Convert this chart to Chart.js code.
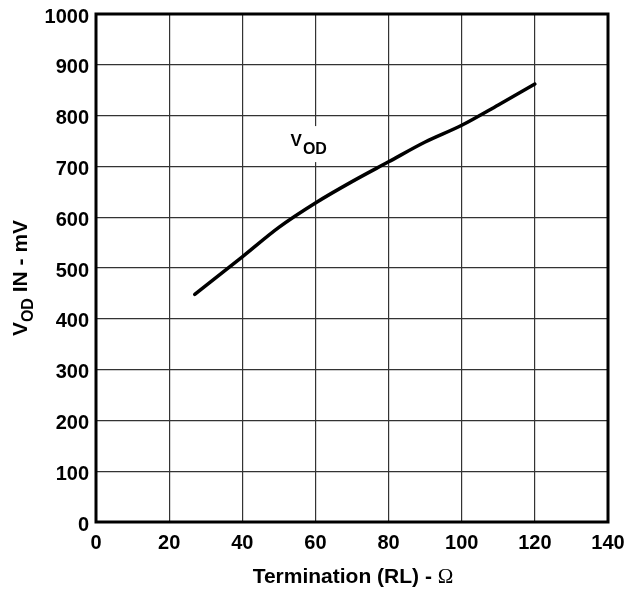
<!DOCTYPE html>
<html>
<head>
<meta charset="utf-8">
<script src="https://cdn.jsdelivr.net/npm/chart.js@4.4.1/dist/chart.umd.min.js"></script>
<style>
  html, body { margin: 0; padding: 0; background: #fff; }
  #wrap { width: 624px; height: 592px; }
</style>
</head>
<body>
<div id="wrap"><canvas id="c" width="624" height="592"></canvas></div>
<script>
// ---- data ----
const termination = [27, 40, 50, 60, 70, 80, 90, 100, 110, 120];
const vodMilliVolts = [448, 522, 580, 628, 670, 709, 748, 781, 821, 862];
const xTicks = [0, 20, 40, 60, 80, 100, 120, 140];
const yTicks = [0, 100, 200, 300, 400, 500, 600, 700, 800, 900, 1000];
const seriesLabel = ['V', 'OD'];
const yTitle = ['V', 'OD', ' IN - mV'];
const xTitle = ['Termination (RL) - ', '\u03A9'];

const labelAnchor = { x: 53.2, y: 740 };

const points = termination.map((x, i) => ({ x: x, y: vodMilliVolts[i] }));

const framePlugin = {
  id: 'frame',
  beforeDatasetsDraw(chart) {
    const { ctx, scales } = chart;
    const px = scales.x.getPixelForValue(labelAnchor.x);
    const py = scales.y.getPixelForValue(labelAnchor.y);
    ctx.save();
    ctx.fillStyle = '#fff';
    ctx.fillRect(px - 4, py - 20, 46, 36);
    ctx.fillStyle = '#000';
    ctx.textBaseline = 'alphabetic';
    ctx.textAlign = 'left';
    ctx.font = 'bold 17px "Liberation Sans", Arial, sans-serif';
    ctx.fillText(seriesLabel[0], px, py);
    const w = ctx.measureText(seriesLabel[0]).width;
    ctx.font = 'bold 16px "Liberation Sans", Arial, sans-serif';
    ctx.fillText(seriesLabel[1], px + w + 1, py + 8);
    ctx.restore();
  },
  afterDraw(chart) {
    const { ctx, chartArea: a } = chart;
    ctx.save();
    ctx.strokeStyle = '#000';
    ctx.lineWidth = 3;
    ctx.strokeRect(a.left, a.top, a.right - a.left, a.bottom - a.top);

    // y title (rotated, with subscript)
    ctx.translate(27, 278);
    ctx.rotate(-Math.PI / 2);
    ctx.textBaseline = 'alphabetic';
    ctx.textAlign = 'left';
    const fBig = 'bold 21px "Liberation Sans", Arial, sans-serif';
    const fSub = 'bold 16px "Liberation Sans", Arial, sans-serif';
    ctx.font = fBig; const w0 = ctx.measureText(yTitle[0]).width;
    ctx.font = fSub; const w1 = ctx.measureText(yTitle[1]).width;
    ctx.font = fBig; const w2 = ctx.measureText(yTitle[2]).width;
    let sx = -(w0 + w1 + w2) / 2;
    ctx.fillStyle = '#000';
    ctx.font = fBig; ctx.fillText(yTitle[0], sx, 0); sx += w0;
    ctx.font = fSub; ctx.fillText(yTitle[1], sx, 6); sx += w1;
    ctx.font = fBig; ctx.fillText(yTitle[2], sx, 0);
    ctx.restore();

    // x title
    ctx.save();
    ctx.fillStyle = '#000';
    ctx.textBaseline = 'alphabetic';
    ctx.textAlign = 'left';
    const fX = 'bold 21px "Liberation Sans", Arial, sans-serif';
    const fSerif = '21px "Liberation Serif", "Times New Roman", serif';
    ctx.font = fX; const t0 = ctx.measureText(xTitle[0]).width;
    ctx.font = fSerif; const t1 = ctx.measureText(xTitle[1]).width;
    let tx = 353 - (t0 + t1) / 2;
    ctx.font = fX; ctx.fillText(xTitle[0], tx, 583);
    ctx.font = fSerif; ctx.fillText(xTitle[1], tx + t0, 583);
    ctx.restore();
  }
};

const tickFont = { family: '"Liberation Sans", Arial, sans-serif', size: 20, weight: 'bold' };

new Chart(document.getElementById('c'), {
  type: 'line',
  data: {
    datasets: [{
      data: points,
      borderColor: '#000',
      borderWidth: 3.5,
      borderCapStyle: 'round',
      borderJoinStyle: 'round',
      pointRadius: 0,
      fill: false,
      cubicInterpolationMode: 'monotone'
    }]
  },
  options: {
    responsive: false,
    animation: false,
    devicePixelRatio: 1,
    layout: { padding: { top: 14, right: 16, left: 0, bottom: 0 } },
    plugins: { legend: { display: false }, tooltip: { enabled: false } },
    scales: {
      x: {
        type: 'linear',
        min: 0, max: 140,
        afterBuildTicks: s => { s.ticks = xTicks.map(v => ({ value: v })); },
        afterFit: s => { s.height = 70; s.paddingLeft = 0; s.paddingRight = 0; },
        ticks: { color: '#000', font: tickFont, padding: 9, maxRotation: 0, autoSkip: false, callback: v => String(v) },
        grid: { color: '#333', lineWidth: 1.2, drawTicks: false },
        border: { display: false }
      },
      y: {
        min: 0, max: 1000,
        afterBuildTicks: s => { s.ticks = yTicks.map(v => ({ value: v })); },
        afterFit: s => { s.width = 96; s.paddingTop = 0; s.paddingBottom = 0; },
        ticks: { color: '#000', font: tickFont, padding: 7, labelOffset: 3, autoSkip: false, callback: v => String(v) },
        grid: { color: '#333', lineWidth: 1.2, drawTicks: false },
        border: { display: false }
      }
    }
  },
  plugins: [framePlugin]
});
</script>
</body>
</html>
